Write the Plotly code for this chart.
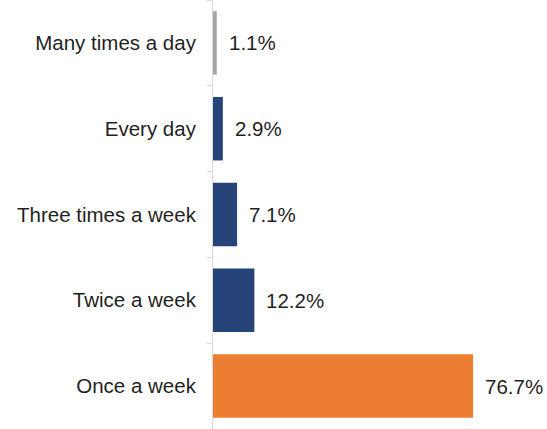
import plotly.graph_objects as go

# Frequency categories, top to bottom, with the share of respondents (%)
categories = ["Many times a day", "Every day", "Three times a week", "Twice a week", "Once a week"]
shares = [1.1, 2.9, 7.1, 12.2, 76.7]
bar_colors = ["#A5A5A5", "#264478", "#264478", "#264478", "#ED7D31"]

FONT = "Liberation Sans, Arial, sans-serif"
TEXT_SIZE = 20.5

fig = go.Figure(
    go.Bar(
        x=shares,
        y=categories,
        orientation="h",
        marker=dict(color=bar_colors, line=dict(width=0)),
        hoverinfo="skip",
    )
)

# Value labels just to the right of each bar
for cat, val in zip(categories, shares):
    fig.add_annotation(
        x=val, y=cat, text=f"{val:.1f}%",
        xanchor="left", yanchor="middle", xshift=10,
        showarrow=False,
        font=dict(family=FONT, size=TEXT_SIZE, color="#1f1f1f"),
    )

fig.update_layout(
    width=547, height=429,
    margin=dict(l=213, r=0, t=0, b=0),
    paper_bgcolor="white", plot_bgcolor="white",
    bargap=0.26,
    showlegend=False,
    font=dict(family=FONT, size=TEXT_SIZE, color="#1f1f1f"),
)
fig.update_xaxes(range=[0, 98.5], visible=False, fixedrange=True)
fig.update_yaxes(
    autorange="reversed",
    showline=True, linecolor="#D9D9D9", linewidth=1,
    ticks="outside", tickson="boundaries", ticklen=5, tickcolor="#D9D9D9",
    ticklabelstandoff=12,
    showgrid=False, zeroline=False,
    tickfont=dict(family=FONT, size=TEXT_SIZE, color="#1f1f1f"),
)

fig.write_html("out.html")
